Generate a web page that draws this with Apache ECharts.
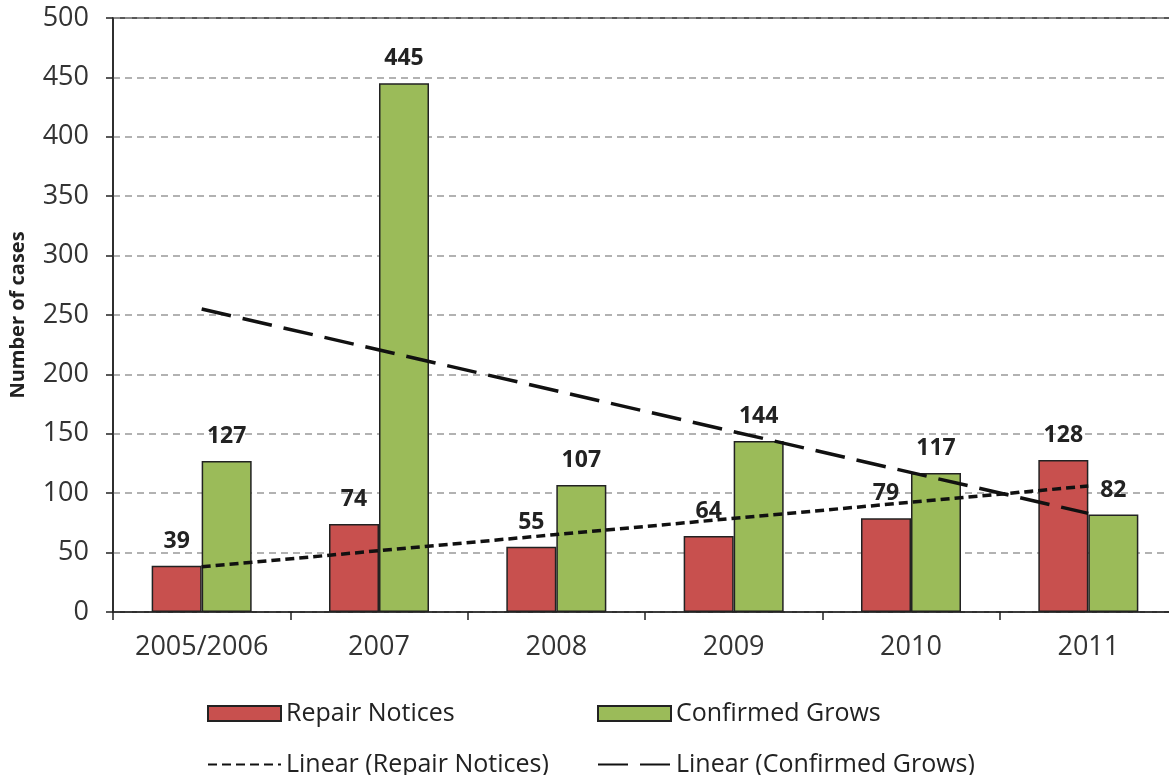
<!DOCTYPE html>
<html>
<head>
<meta charset="utf-8">
<script src="https://cdn.jsdelivr.net/npm/echarts@6/dist/echarts.min.js"></script>
<style>
html,body{margin:0;padding:0;background:#fff;}
#chart{width:1169px;height:775px;}
</style>
</head>
<body>
<div id="chart"></div>
<script>
var categories = ['2005/2006', '2007', '2008', '2009', '2010', '2011'];
var repairNotices = [39, 74, 55, 64, 79, 128];
var confirmedGrows = [127, 445, 107, 144, 117, 82];
// trendline endpoints (first and last category)
var repairTrend = [38, null, null, null, null, 106];
var growsTrend = [255, null, null, null, null, 83];
var yTicks = [0, 50, 100, 150, 200, 250, 300, 350, 400, 450, 500];

var FONT = '"Open Sans", sans-serif';
var chart = echarts.init(document.getElementById('chart'));
var labelStyle = {
  show: true, position: 'top', distance: 13,
  fontFamily: FONT, fontWeight: 'bold', fontSize: 23, color: '#222'
};
var legendText = { fontFamily: FONT, fontSize: 25, color: '#222' };
function leg(name, left, top, icon) {
  var l = {
    data: [name], left: left, top: top, itemWidth: 73, itemHeight: 15, itemGap: 6,
    textStyle: legendText, selectedMode: false, padding: 0
  };
  if (icon) { l.icon = icon; } else { l.itemStyle = { opacity: 0 }; }
  return l;
}
chart.setOption({
  animation: false,
  backgroundColor: '#fff',
  grid: { left: 113, top: 18, width: 1064, height: 594, outerBoundsMode: 'none', containLabel: false,
          show: true, borderColor: '#222', borderWidth: 1.5, backgroundColor: 'transparent' },
  legend: [
    leg('Repair Notices', 207, 701, 'rect'),
    leg('Confirmed Grows', 597, 701, 'rect'),
    leg('Linear (Repair Notices)', 207, 752),
    leg('Linear (Confirmed Grows)', 597, 752)
  ],
  xAxis: {
    type: 'category', data: categories,
    axisLine: { lineStyle: { color: '#222', width: 1.5 } },
    axisTick: { show: true, length: 8, interval: 0, lineStyle: { color: '#222', width: 1.5 } },
    axisLabel: { interval: 0, hideOverlap: false, fontFamily: FONT, fontSize: 27, color: '#333', margin: 22 }
  },
  yAxis: {
    type: 'value', min: yTicks[0], max: yTicks[yTicks.length - 1], interval: 50,
    name: 'Number of cases', nameLocation: 'middle', nameGap: 85,
    nameTextStyle: { fontFamily: FONT, fontWeight: 'bold', fontSize: 20, color: '#222' },
    axisLine: { show: true, lineStyle: { color: '#222', width: 1.5 } },
    axisTick: { show: true, length: 7, lineStyle: { color: '#222', width: 1.5 } },
    axisLabel: { fontFamily: FONT, fontSize: 27, color: '#333', margin: 24 },
    splitLine: { lineStyle: { color: '#999', width: 1.5, type: [7, 5] } }
  },
  series: [
    {
      name: 'Repair Notices', type: 'bar', data: repairNotices,
      barWidth: 50, barGap: '0%',
      itemStyle: { color: '#C8504E', borderColor: '#222', borderWidth: 1.5 },
      label: labelStyle
    },
    {
      name: 'Confirmed Grows', type: 'bar', data: confirmedGrows,
      barWidth: 50,
      itemStyle: { color: '#9BBB59', borderColor: '#222', borderWidth: 1.5 },
      label: labelStyle
    },
    {
      name: 'Linear (Repair Notices)', type: 'line', data: repairTrend,
      connectNulls: true, symbol: 'none', z: 5,
      itemStyle: { color: '#111' },
      lineStyle: { color: '#111', width: 3.5, type: [9, 5] }
    },
    {
      name: 'Linear (Confirmed Grows)', type: 'line', data: growsTrend,
      connectNulls: true, symbol: 'none', z: 5,
      itemStyle: { color: '#111' },
      lineStyle: { color: '#111', width: 3.5, type: [30, 12] }
    }
  ]
});
</script>
</body>
</html>
